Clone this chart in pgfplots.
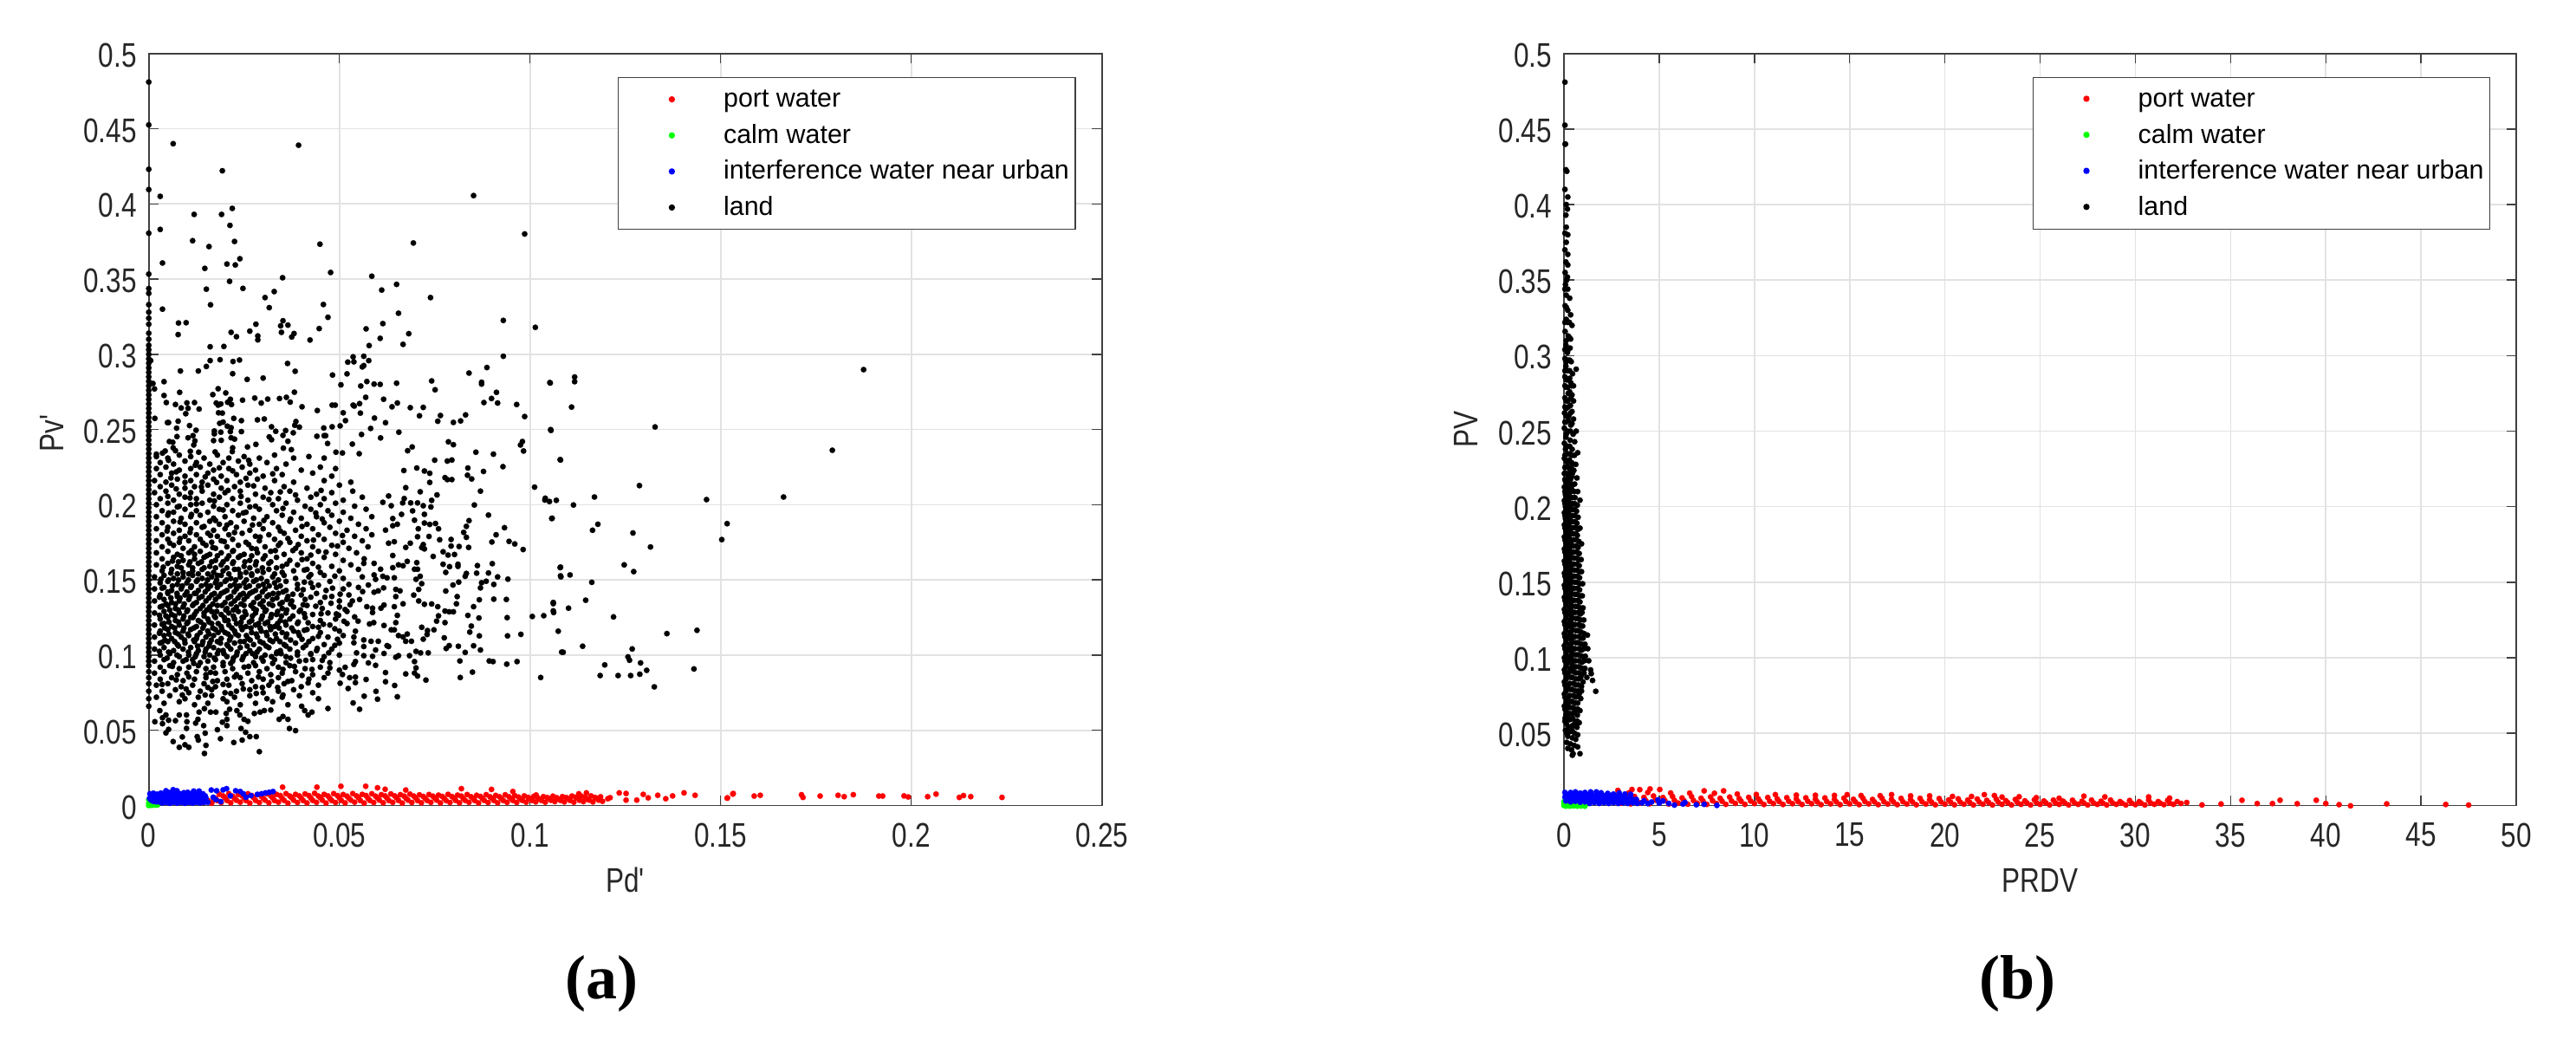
\documentclass[border=0pt]{standalone}
\usepackage{fontspec}
\usepackage{pgfplots}
\pgfplotsset{compat=1.18}
\setmainfont{Liberation Sans}
\newfontfamily\tickfont[FakeStretch=0.8]{Liberation Sans}
\newfontfamily\capfont{Liberation Serif}
\definecolor{axc}{HTML}{404040}
\definecolor{tx}{HTML}{262626}
\definecolor{gr}{HTML}{E2E2E2}
\pgfplotsset{
 dots/.style={only marks,mark=*,mark size=1.6pt,color=#1,mark options={line width=0.1pt,draw=#1,fill=#1}},
 panel/.style={
  scale only axis,anchor=south west,clip=false,axis on top=false,
  xmajorgrids,ymajorgrids,grid style={gr,line width=0.8pt},
  axis line style={axc,line width=0.9pt},
  major tick style={axc,line width=0.7pt},
  major tick length=5.75pt,tick align=inside,tick pos=both,
  tick label style={font=\fontsize{19.7}{20}\selectfont\tickfont,text=tx},
  xticklabel style={yshift=-6.5pt},
  yticklabel style={xshift=-3.5pt,yshift=-1pt},
  every axis x label/.style={at={(axis description cs:0.5,0)},anchor=center,yshift=-43pt,font=\fontsize{19.7}{20}\selectfont\tickfont,text=tx},
  every axis y label/.style={rotate=90,anchor=center,font=\fontsize{19.7}{20}\selectfont\tickfont,text=tx},
  legend cell align=left,
  legend image code/.code={\path (0,0) (56.4pt,0); \fill[##1] (26.9pt,0) circle (1.45pt);},
  legend style={anchor=north west,draw=axc,line width=0.7pt,fill=white,
    font=\fontsize{15.2}{15}\selectfont,text=black,inner xsep=3.6pt,inner ysep=5pt,
    row sep=5.8pt,nodes={inner sep=0pt,text height=12pt,text depth=3pt}},
 }
}
\begin{document}
\begin{tikzpicture}[x=1pt,y=1pt]
\path[use as bounding box] (0,0) rectangle (1486.5,603);
\begin{axis}[panel,at={(85.85pt,138.25pt)},width=550pt,height=433.9pt,
 xmin=0,xmax=0.25,ymin=0,ymax=0.5,
 xtick={0,0.05,0.1,0.15,0.2,0.25},xticklabels={0,0.05,0.1,0.15,0.2,0.25},
 ytick={0,0.05,0.1,0.15,0.2,0.25,0.3,0.35,0.4,0.45,0.5},
 yticklabels={0,0.05,0.1,0.15,0.2,0.25,0.3,0.35,0.4,0.45,0.5},
 xlabel={Pd'},ylabel={Pv'},
 ylabel style={at={(axis description cs:-0.1014,0.495)}},
 legend style={at={(axis description cs:0.4921,0.9686)}}]
\addplot[dots=red] coordinates {
(.0351,.0122)(.0441,.0122)(.0504,.0128)(.0569,.0128)(.06,.0118)(.062,.0108)(.0674,.0103)(.082,.0112)(.0899,.0107)(.0955,.0093)
(.1016,.007)(.1128,.0078)(.1148,.0084)(.1204,.0045)(.1234,.0084)(.1252,.008)(.1252,.0036)(.128,.0036)(.1297,.0074)(.131,.0051)(.1335,.0068)(.1356,.0045)(.1374,.0064)(.1404,.0084)(.1433,.0068)(.1518,.0051)(.1533,.008)
(.1517,.0049)(.1532,.0076)(.1588,.0063)(.1604,.0068)(.1712,.0072)(.1716,.0054)(.1761,.0063)(.1808,.0068)(.1824,.0059)(.1848,.0072)(.1915,.0063)(.1925,.0063)(.1981,.0064)(.1992,.0057)(.2043,.0059)(.2065,.0076)(.2126,.0054)(.2137,.0066)(.2156,.0059)(.2238,.0054)
(.014,.002)(.0165,.0015)(.019,.002)(.0215,.0018)(.024,.0022)(.0265,.0016)(.029,.002)(.0315,.0018)(.034,.0022)(.0365,.0016)(.039,.002)(.0415,.0017)(.044,.0021)(.0465,.0016)(.049,.002)(.0515,.0017)(.054,.0022)(.0565,.0016)(.059,.002)(.0615,.0018)(.064,.0021)(.0665,.0016)(.069,.002)(.0715,.0018)(.074,.0021)(.0765,.0017)(.079,.002)(.0815,.0018)(.084,.0021)(.0865,.0017)(.089,.002)(.0915,.0018)(.094,.0021)(.0965,.002)(.099,.0022)(.1015,.0024)(.104,.0022)(.1065,.0026)(.109,.0024)(.1115,.0022)(.114,.0026)(.1165,.0024)(.119,.0028)
(.0175,.0048)(.02,.0052)(.0225,.0046)(.025,.005)(.0275,.0053)(.03,.0048)(.0325,.0051)(.035,.0047)(.0375,.0052)(.04,.0048)(.0425,.005)(.045,.0053)(.0475,.0047)(.05,.0051)(.0525,.0048)(.055,.0052)(.0575,.0047)(.06,.005)(.0625,.0049)(.065,.0052)(.0675,.0047)(.07,.005)(.0725,.0047)(.075,.005)(.0775,.0047)(.08,.005)(.0825,.0046)(.085,.0049)(.0875,.0046)(.09,.0048)(.0925,.0045)(.095,.0047)(.0975,.0043)(.1,.0045)(.1025,.0043)(.105,.0046)(.1075,.0043)(.11,.0046)(.1125,.0048)(.115,.0044)(.1175,.0048)
(.0185,.0075)(.021,.0079)(.0235,.0073)(.026,.0078)(.0285,.0072)(.031,.0078)(.0335,.0074)(.036,.0079)(.0385,.0074)(.041,.0077)(.0435,.0081)(.046,.0074)(.0485,.0079)(.051,.0073)(.0535,.0079)(.056,.0074)(.0585,.0078)(.061,.0072)(.0635,.0077)(.066,.0072)(.0685,.0076)(.071,.0071)(.0735,.0073)(.076,.0069)(.0785,.0074)(.081,.0069)(.0835,.0073)(.086,.0068)(.0885,.0072)(.091,.0067)(.0935,.0071)(.096,.0066)(.0985,.0064)(.101,.0061)(.1035,.0059)(.106,.0062)(.1085,.0059)(.111,.0063)(.1135,.0062)(.116,.0064)(.1185,.0058)(.121,.0052)
(.0155,.0034)(.017,.0036)(.018,.0033)(.0205,.0034)(.023,.0035)(.0255,.0033)(.028,.0034)(.0305,.0036)(.033,.0033)(.0355,.0034)(.038,.0036)(.0405,.0033)(.043,.0034)(.0455,.0036)(.048,.0033)(.0505,.0034)(.053,.0036)(.0555,.0033)(.058,.0034)(.0605,.0036)(.063,.0033)(.0655,.0034)(.068,.0036)(.0705,.0033)(.073,.0034)(.0755,.0036)(.078,.0033)(.0805,.0034)(.083,.0034)(.0855,.0033)(.088,.0034)(.0905,.0034)(.093,.0033)(.0955,.0034)(.098,.0034)(.1005,.0034)(.103,.0034)(.1055,.0035)(.108,.0034)(.1105,.0034)(.113,.0035)(.1155,.0036)(.118,.0036)
(.0195,.0064)(.022,.0062)(.0245,.0064)(.027,.0066)(.0295,.0062)(.032,.0064)(.0345,.0066)(.037,.0063)(.0395,.0064)(.042,.0066)(.0445,.0063)(.047,.0064)(.0495,.0066)(.052,.0062)(.0545,.0064)(.057,.0066)(.0595,.0062)(.062,.0064)(.0645,.0064)(.067,.0062)(.0695,.0063)(.072,.006)(.0745,.0062)(.077,.006)(.0795,.006)(.082,.0062)(.0845,.0059)(.087,.006)(.0895,.0058)(.092,.0058)(.0945,.0058)(.097,.0056)(.0995,.0054)(.102,.0052)(.1045,.0053)(.107,.0052)(.1095,.0053)(.112,.0055)(.1145,.0054)(.117,.0054)
};
\addlegendentry{port water}
\addplot[dots=green] coordinates {(0,.0015)(0,.004)(0,0)(.0003,.0025)(.0006,.0002)(.001,.0002)(.0014,.0005)(.0019,.0003)(.0023,.0004)};
\addlegendentry{calm water}
\addplot[dots=blue] coordinates {
(.0012,.0028)(.002,.0025)(.003,.0022)(.0035,.0017)(.0045,.002)(.0055,.0015)(.0065,.0021)(.0075,.0016)(.0085,.002)(.0095,.0015)(.0105,.002)(.0115,.0016)(.0125,.0021)(.0135,.0017)(.0145,.0021)(.0155,.0022)
(.0002,.0048)(.001,.0052)(.002,.0048)(.003,.0052)(.004,.0047)(.005,.0051)(.006,.0048)(.007,.0052)(.008,.0047)(.009,.0051)(.01,.0048)(.011,.0052)(.012,.0047)(.013,.0051)(.014,.0048)(.015,.005)
(.0003,.0078)(.0012,.0082)(.0022,.0076)(.0032,.0083)(.0042,.0078)(.0052,.0088)(.0062,.008)(.0072,.0092)(.0082,.0078)(.0092,.0085)(.0102,.0088)(.0112,.008)(.0122,.0082)(.0132,.0086)(.0142,.0078)
(.0064,.0105)(.0074,.0098)(.0045,.0098)(.0118,.0096)(.0132,.0096)
(.0006,.0035)(.0016,.0034)(.0026,.0036)(.0036,.0034)(.0046,.0035)(.0056,.0034)(.0066,.0036)(.0076,.0034)(.0086,.0035)(.0096,.0034)(.0106,.0036)(.0116,.0034)(.0126,.0035)(.0136,.0034)(.0146,.0036)
(.0006,.0065)(.0016,.0066)(.0026,.0064)(.0036,.0066)(.0046,.0065)(.0056,.0067)(.0066,.0064)(.0076,.0066)(.0086,.0065)(.0096,.0067)(.0106,.0064)(.0116,.0066)(.0126,.0065)(.0136,.0066)(.0148,.0064)
(.0164,.0103)(.0178,.0098)(.0195,.0104)(.0204,.0112)(.0169,.0055)(.0189,.0026)(.0176,.004)(.0214,.0064)(.024,.0093)(.0228,.0098)(.0255,.0055)(.0248,.0078)(.0268,.0066)(.0285,.0074)(.0306,.0084)(.0326,.0093)(.0296,.0078)(.0316,.0088)
};
\addlegendentry{interference water near urban}
\addplot[dots=black] coordinates {
(0,.481)(0,.4525)(.0064,.44)(.0393,.439)(.0193,.422)(0,.423)(0,.4095)(.003,.405)(.0852,.4055)(.0219,.397)(.0119,.393)(.0191,.393)(.0213,.3857)(.003,.383)(0,.3805)(.0986,.38)(.0115,.3755)(.0225,.375)(.0694,.374)(.0449,.3732)(.0158,.3716)(.0239,.3635)(.0036,.3607)(.0205,.36)(.0227,.3594)(.0147,.3571)(.0477,.3544)(0,.3533)(.0585,.3519)(.0351,.3509)(.0212,.3485)(.065,.3465)(0,.3437)(0,.3405)(.0247,.3438)(.0151,.3433)(.0611,.3427)(.0329,.3417)(.0305,.3377)(.0739,.3377)(.0162,.3329)(.0458,.3331)(0,.333)(.0036,.33)(.0316,.331)(.0655,.3273)(0,.328)(0,.324)(0,.32)(.047,.3246)(.093,.3225)(.0078,.3208)(.0098,.321)(.0281,.32)(.0352,.3223)(.0346,.3189)(.0365,.3194)(.0614,.3204)(.1014,.3179)(.057,.3169)(.0447,.3171)(.0216,.3146)(.0265,.3154)(.0348,.3146)(.0077,.3131)(.0286,.3122)(.0286,.3096)(.023,.3117)(.0381,.3138)(.0375,.3115)(.0682,.3137)(.0607,.3106)(.0423,.3095)(.0667,.3066)(.0161,.305)(.0197,.3052)(.0578,.3058)(.093,.2987)(.0564,.2987)(.0536,.2983)(.0005,.2958)(.0161,.2958)(.0187,.2964)(.0221,.2952)(.0238,.2962)(.0522,.2948)(.0538,.295)(.0577,.2958)(.0564,.2925)(.056,.2916)(.0151,.2919)(.0364,.2939)(.0887,.2912)(.0083,.2889)(.013,.2889)(.0384,.2887)(.022,.2871)(.052,.287)(.084,.2875)(.0482,.2862)(.03,.2842)(.0258,.2833)(.004,.2818)(.0011,.2806)(.0742,.2823)(.0572,.2819)(.1052,.2812)(.065,.2808)(.0591,.2802)(.0607,.28)(.0873,.2814)(.0873,.2802)(.0504,.2797)(.0556,.2789)(.0015,.277)(.0182,.2771)(.0751,.2764)(.0081,.2747)(.0202,.2743)(.0382,.2748)(.0912,.2747)(.0168,.2732)(.004,.2726)(.0569,.2714)(.0214,.2701)(.0278,.2709)(.0312,.2702)(.0343,.2706)(.0361,.2714)(.0246,.2695)(.0899,.2706)(.0616,.2701)(.0046,.2679)(.01,.2677)(.012,.2679)(.0177,.2676)(.0182,.2662)(.0189,.267)(.0207,.2681)(.0217,.2666)(.0295,.2676)(.0371,.2682)(.0915,.2676)(.0879,.2679)(.0652,.2676)(.0553,.2672)(.007,.2666)(.0481,.2662)(.0489,.2662)(.0536,.2662)(.0539,.2656)(.0965,.2666)(.0085,.2643)(.0103,.2641)(.0132,.2636)(.0402,.2651)(.0638,.2651)(.0686,.2645)(.072,.2647)(.0442,.2626)(.051,.2611)(.0555,.2609)(.0097,.2605)(.0183,.2611)(.0193,.2609)(.071,.2591)(.0765,.2593)(.0986,.2586)(.0016,.2574)(.0592,.2576)(.0223,.2574)(.0285,.2564)(.0303,.257)(.0243,.2559)(.0516,.2559)(.0049,.2546)(.0052,.2546)(.0077,.2555)(.0186,.2541)(.0195,.2549)(.0758,.2555)(.0799,.2547)(.0818,.2557)(.0831,.2597)(.0386,.2553)(.0383,.2528)(.0395,.2516)(.0621,.2545)(.0107,.2526)(.0322,.2518)(.0206,.2522)(.0216,.2512)(.0073,.2509)(.0459,.251)(.0481,.2518)(.0502,.2524)(.1054,.2499)(.0582,.2507)(.0124,.2495)(.0172,.249)(.0172,.2471)(.0189,.2482)(.0214,.2486)(.0243,.2486)(.0333,.2488)(.0359,.2493)(.0656,.2482)(.0379,.2478)(.0352,.2461)(.0558,.2467)(.0441,.2455)(.046,.2459)(.0464,.2459)(.0074,.2453)(.0103,.2445)(.0116,.2459)(.0216,.2445)(.0225,.2436)(.0608,.2444)(.0316,.2451)(.0322,.2432)(.0121,.2424)(.0054,.242)(.0063,.2415)(.017,.2426)(.019,.2428)(.0365,.2422)(.0786,.2418)(.0799,.2399)(.098,.242)(.0975,.2397)(.0983,.2357)(.0469,.2407)(.0534,.2403)(.0118,.2397)(.0281,.2401)(.0259,.2384)(.022,.2378)(.0219,.2353)(.0353,.2376)(.0064,.2378)(.007,.2359)(.0374,.2366)(.0691,.2384)(.0679,.2359)(.0043,.2357)(.0036,.2343)(.002,.2336)(.0109,.2355)(.0131,.2349)(.0174,.2351)(.0491,.2349)(.0508,.2344)(.0552,.2339)(.0858,.2349)(.0904,.2336)
(.108,.2297)(.0929,.2253)(.0878,.2221)(.0847,.2171)(.0837,.2244)(.0836,.2196)(.0777,.218)(.0783,.2167)(.0795,.2167)(.075,.2296)(.0783,.229)(.0795,.2297)(.0723,.2224)(.0737,.2209)(.0703,.2244)(.0669,.2227)(.0737,.2148)(.0674,.2113)(.0712,.2086)(.0756,.2065)(.0742,.2029)(.074,.1985)(.087,.209)(.0854,.1998)(.0891,.1931)(.1012,.2117)(.1039,.2031)(.1051,.2021)(.1057,.1908)(.084,.1894)(.0833,.1856)(.0826,.1816)(.0833,.1783)(.0933,.1847)(.0911,.18)(.09,.1752)(.0945,.1756)(.096,.1739)(.0982,.1702)(.0839,.1716)(.0814,.1722)(.0793,.1769)(.0793,.1725)(.0763,.1767)(.0772,.1687)(.0785,.1665)(.0802,.1669)(.0746,.1656)(.0772,.1604)(.0789,.1588)(.0811,.1604)(.0811,.159)(.0779,.155)(.0833,.1543)(.083,.1524)(.0862,.1595)(.086,.1545)(.0901,.1608)(.0891,.1546)(.0915,.152)(.0942,.1505)(.108,.1585)(.108,.1527)(.0885,.1491)(.0873,.1481)(.087,.1447)(.0905,.147)(.0813,.1485)(.0798,.1466)(.0779,.1426)(.0809,.1389)(.0807,.1341)(.0788,.1288)(.0799,.1288)(.0777,.1293)(.076,.1261)(.0755,.1226)(.0777,.1216)(.0867,.1368)(.0905,.1372)(.0938,.137)(.0852,.1322)(.0837,.1264)(.0866,.1247)(.094,.1249)(.0846,.1193)(.0842,.1153)(.0867,.1128)(.0941,.1128)(.0976,.1138)(.1061,.135)(.1062,.1283)(.1006,.1257)(.1036,.1262)(.1074,.1159)(.1083,.102)(.0852,.1062)(.087,.1034)(.0812,.1059)(.083,.1018)(.0816,.0961)(.0893,.0961)(.0903,.0957)(.0939,.094)(.0966,.0957)(.0849,.0887)(.0817,.0851)(.1028,.0851)(.0727,.0834)(.0775,.1115)(.078,.1044)(.0788,.1063)(.0716,.1185)(.0731,.1163)(.0748,.1168)(.072,.1106)(.073,.1137)(.0701,.1025)(.0713,.1015)(.0733,.1015)(.0697,.0957)(.0701,.0915)(.0697,.0881)(.0705,.0861)(.0674,.0875)(.0684,.0996)(.0648,.0986)(.0655,.0996)(.0678,.114)(.0667,.1121)(.0674,.1092)(.0689,.1092)(.0708,.136)(.0723,.1338)(.0742,.134)(.0758,.1322)(.0695,.1399)(.0708,.1437)(.0716,.1475)(.0712,.1524)(.0701,.1504)(.0697,.1571)(.0705,.1571)(.072,.1735)(.0716,.1715)(.0723,.1706)(.0707,.184)(.0705,.1787)(.0735,.1789)(.0723,.1878)(.0737,.1869)(.0752,.1875)(.076,.184)(.0697,.1897)(.0692,.1959)(.0723,.1936)(.072,.1993)(.0705,.2012)(.0687,.2012)(.0666,.2012)(.067,.2041)(.0636,.1993)(.0614,.2016)(.0629,.2058)(.0663,.1936)(.064,.1908)(.0652,.187)(.064,.186)(.0621,.1831)(.0686,.1744)(.0674,.1716)(.0629,.1744)(.0644,.1754)(.064,.1662)(.0655,.16)(.0667,.1594)(.0678,.1623)(.0703,.1615)(.064,.1581)(.0608,.1571)(.0591,.161)(.0564,.161)(.0644,.1514)(.0625,.1514)(.0614,.1524)(.0595,.1504)(.0591,.1533)(.0648,.1437)(.0659,.1427)(.0648,.1389)(.0667,.1341)(.0644,.1322)(.0617,.1333)(.0609,.1312)(.0616,.1447)(.0602,.1427)(.0591,.1418)(.0576,.1466)(.0561,.1422)(.0534,.136)(.0553,.137)(.0572,.1322)(.0587,.1312)(.0587,.1283)(.0549,.1226)(.054,.1254)(.0515,.1303)(.0492,.1274)(.0652,.1264)(.0648,.1216)(.0617,.1197)(.059,.1216)(.0579,.1207)(.0644,.1168)(.0636,.1168)(.0655,.113)(.0625,.1063)(.0602,.1092)(.0583,.1092)(.0564,.1101)(.0542,.1159)(.0538,.112)(.0538,.1082)(.0564,.1057)(.0595,.1034)(.0617,.1011)(.0629,.1057)(.0545,.1015)(.0564,.0996)(.0587,.0992)(.0542,.0957)(.0576,.0948)(.0595,.0932)(.0538,.0938)(.0515,.0919)(.05,.09)(.0508,.0871)(.0527,.085)(.0542,.0854)(.0542,.0817)(.0621,.0884)(.0621,.0823)(.0645,.0798)(.057,.0838)(.0523,.0778)(.0502,.0813)(.0596,.0759)(.06,.0707)(.0565,.0727)(.0536,.0682)(.0553,.064)(.0652,.0723)(.047,.0645)
(.1875,.2898)(.1328,.2517)(.1463,.2034)(.1665,.2051)(.1793,.2362)(.1517,.1874)(.1503,.1768)(.1287,.2127)(.1169,.2051)(.1114,.1998)(.1178,.187)(.1164,.183)(.127,.1812)(.1316,.1719)(.1247,.16)(.1272,.1555)(.1162,.1484)(.1079,.1582)(.1081,.152)(.1105,.1533)(.1146,.1365)(.1101,.1312)(.1061,.1342)(.1061,.1294)(.1219,.1254)(.1359,.1143)(.1438,.1165)(.1087,.1019)(.1138,.1059)(.1268,.1041)(.1257,.0988)(.1261,.0966)(.129,.0948)(.1306,.0899)(.1196,.0935)(.1184,.0864)(.1231,.0864)(.1264,.0864)(.1288,.0873)(.1326,.0789)(.143,.0908)(.1055,.2494)(.1058,.191)(.1053,.2809)(.1117,.2849)(.1117,.2818)(.1109,.2649)(.1079,.23)(.1069,.2029)(.104,.2043)
(.029,.0358)(.0146,.0346)(.015,.04)(.008,.0387)(.0095,.0404)(.0105,.0387)(.0064,.0425)(.0088,.0456)(.0127,.0458)(.013,.0435)(.0148,.0481)(.0188,.0444)(.0223,.0419)(.0245,.0435)(.0265,.0458)(.0282,.0458)(.0045,.0483)(.0052,.0506)(.0099,.0513)(.018,.0504)(.0242,.0512)(.0254,.0487)(.0369,.0512)(.0385,.0498)(.0016,.0557)(.0036,.0544)(.0052,.0567)(.007,.0564)(.01,.0557)(.0129,.0573)(.0123,.0548)(.0144,.0531)(.0193,.0554)(.0205,.0573)(.0205,.0531)(.026,.056)(.0342,.0573)(.0352,.0592)(.0365,.0573)(.0036,.0583)(.0029,.0631)(.0045,.0602)(.008,.0602)(.0099,.0602)(.0132,.0621)(.0146,.0644)(.0162,.0621)(.0176,.0621)(.0203,.0612)(.0212,.064)(.0231,.0631)(.0239,.0602)(.025,.0573)(.0277,.0612)(.0292,.0621)(.0303,.0631)(.032,.0635)(.0401,.066)(.0409,.0631)(.0428,.0621)(.0418,.0602)
(0,.066)(0,.071)(0,.076)(0,.081)(0,.085)(0,.089)(0,.093)(0,.096)(0,.099)(0,.102)(0,.105)(0,.108)(0,.111)(0,.114)(0,.117)(0,.12)(0,.123)(0,.126)(0,.129)(0,.132)(0,.135)(0,.138)(0,.141)(0,.144)(0,.147)(0,.15)(0,.153)(0,.156)(0,.159)(0,.162)(0,.165)(0,.168)(0,.171)(0,.174)(0,.177)(0,.18)(0,.183)(0,.186)(0,.189)(0,.192)(0,.195)(0,.198)(0,.201)(0,.204)(0,.207)(0,.21)(0,.213)(0,.216)(0,.219)(0,.222)(0,.225)(0,.228)(0,.231)(0,.234)(0,.237)(0,.24)(0,.243)(0,.246)(0,.249)(0,.252)(0,.255)(0,.258)(0,.261)(0,.264)(0,.267)(0,.27)(0,.273)(0,.276)(0,.279)(0,.282)(0,.285)(0,.288)(0,.291)(0,.294)(0,.297)(0,.3)(0,.303)(0,.306)(0,.31)(0,.314)
(.002,.232)(.005,.231)(.008,.233)(.011,.232)(.0145,.231)(.018,.233)(.021,.231)(.025,.232)(.029,.231)(.033,.233)(.038,.231)(.042,.232)(.046,.231)
(.003,.228)(.0065,.227)(.0095,.229)(.0125,.228)(.016,.227)(.0195,.228)(.0235,.229)(.0265,.227)(.031,.228)(.036,.227)
(.002,.224)(.0045,.225)(.008,.223)(.011,.224)(.0135,.225)(.017,.223)(.021,.224)(.0245,.225)(.028,.223)(.0335,.224)(.04,.223)(.045,.225)(.049,.224)
(.003,.22)(.006,.221)(.0095,.219)(.0125,.22)(.0155,.221)(.019,.219)(.023,.22)(.0265,.221)(.03,.219)(.035,.22)(.043,.221)(.048,.219)
(.0015,.216)(.0045,.215)(.0075,.217)(.011,.216)(.014,.215)(.017,.217)(.0205,.216)(.024,.215)(.0285,.217)(.033,.216)(.038,.215)(.046,.216)(.053,.215)
(.003,.212)(.006,.213)(.0095,.211)(.012,.212)(.0155,.213)(.019,.211)(.0225,.212)(.026,.213)(.0305,.211)(.0355,.212)(.0415,.211)(.05,.213)
(.0015,.208)(.0045,.209)(.008,.207)(.011,.208)(.014,.209)(.017,.207)(.02,.208)(.024,.209)(.028,.207)(.032,.208)(.037,.209)(.044,.207)(.048,.208)(.0535,.209)
(.003,.204)(.0065,.203)(.0095,.205)(.0125,.204)(.016,.203)(.0185,.205)(.022,.204)(.026,.203)(.03,.205)(.034,.204)(.039,.203)(.0425,.205)(.046,.204)(.051,.203)(.056,.205)
(.002,.2)(.005,.201)(.008,.199)(.011,.2)(.014,.201)(.017,.199)(.0205,.2)(.024,.201)(.028,.199)(.0325,.2)(.036,.201)(.041,.199)(.045,.2)(.049,.201)(.054,.199)
(.0035,.196)(.0065,.195)(.0095,.197)(.0125,.196)(.0155,.195)(.0185,.197)(.022,.196)(.0255,.195)(.029,.197)(.0335,.196)(.038,.195)(.0425,.197)(.047,.196)(.051,.195)(.057,.197)
(.002,.192)(.005,.193)(.0085,.191)(.011,.192)(.0135,.193)(.017,.191)(.02,.192)(.0235,.193)(.0275,.191)(.031,.192)(.035,.193)(.04,.191)(.044,.192)(.048,.193)(.053,.191)(.0585,.192)
(.0035,.188)(.0065,.189)(.0095,.187)(.0125,.188)(.016,.189)(.0185,.187)(.0215,.188)(.025,.189)(.029,.187)(.0325,.188)(.037,.189)(.0415,.187)(.046,.188)(.05,.189)(.055,.187)
(.002,.184)(.005,.185)(.008,.183)(.011,.184)(.014,.185)(.017,.183)(.02,.184)(.023,.185)(.0265,.183)(.03,.184)(.034,.185)(.0385,.183)(.043,.184)(.0475,.185)(.052,.183)(.057,.184)
(.0035,.18)(.0065,.181)(.0095,.179)(.0125,.18)(.0155,.181)(.018,.179)(.021,.18)(.0245,.181)(.028,.179)(.0315,.18)(.0355,.181)(.04,.179)(.0445,.18)(.049,.181)(.054,.179)(.0585,.18)
(.002,.176)(.005,.177)(.008,.175)(.0105,.176)(.0135,.177)(.0165,.175)(.019,.176)(.022,.177)(.0255,.175)(.029,.176)(.033,.177)(.037,.175)(.0415,.176)(.046,.177)(.051,.175)(.056,.176)
(.0035,.172)(.0065,.173)(.009,.171)(.012,.172)(.015,.173)(.0175,.171)(.0205,.172)(.0235,.173)(.027,.171)(.0305,.172)(.034,.173)(.0385,.171)(.043,.172)(.048,.173)(.0525,.171)(.0575,.172)
(.002,.168)(.005,.169)(.0075,.167)(.0105,.168)(.0135,.169)(.016,.167)(.019,.168)(.022,.169)(.025,.167)(.0285,.168)(.032,.169)(.0355,.167)(.04,.168)(.0445,.169)(.049,.167)(.0545,.168)
(.0035,.164)(.0065,.165)(.009,.163)(.012,.164)(.0145,.165)(.0175,.163)(.0205,.164)(.0235,.165)(.0265,.163)(.03,.164)(.0335,.165)(.037,.163)(.0415,.164)(.046,.165)(.051,.163)(.0565,.164)
(.002,.16)(.005,.161)(.0075,.159)(.0105,.16)(.013,.161)(.016,.159)(.019,.16)(.022,.161)(.025,.159)(.028,.16)(.0315,.161)(.035,.159)(.039,.16)(.043,.161)(.048,.159)(.053,.16)
(.0035,.156)(.006,.157)(.009,.155)(.0115,.156)(.014,.157)(.017,.155)(.0195,.156)(.0225,.157)(.0255,.155)(.0285,.156)(.0315,.157)(.035,.155)(.038,.156)(.0415,.157)(.045,.155)(.05,.156)(.055,.157)
(.0015,.152)(.004,.153)(.0065,.151)(.009,.152)(.0115,.153)(.014,.151)(.0165,.152)(.019,.153)(.0215,.151)(.024,.152)(.027,.153)(.0295,.151)(.0325,.152)(.0355,.153)(.0385,.151)(.042,.152)(.046,.153)(.051,.151)(.056,.152)
(.003,.148)(.005,.149)(.0075,.147)(.01,.148)(.0125,.149)(.015,.147)(.0175,.148)(.02,.149)(.0225,.147)(.025,.148)(.0275,.149)(.03,.147)(.033,.148)(.036,.149)(.039,.147)(.0425,.148)(.0475,.149)(.0525,.147)
(.0015,.144)(.004,.145)(.006,.143)(.0085,.144)(.011,.145)(.013,.143)(.0155,.144)(.018,.145)(.0205,.143)(.023,.144)(.0255,.145)(.028,.143)(.0305,.144)(.0335,.145)(.036,.143)(.039,.144)(.043,.145)(.0465,.143)(.051,.144)(.055,.145)
(.003,.14)(.005,.141)(.0075,.139)(.0095,.14)(.012,.141)(.014,.139)(.0165,.14)(.019,.141)(.0215,.139)(.024,.14)(.0265,.141)(.029,.139)(.0315,.14)(.034,.141)(.0365,.139)(.04,.14)(.044,.141)(.048,.139)(.0525,.14)
(.0015,.136)(.004,.137)(.006,.135)(.008,.136)(.0105,.137)(.0125,.135)(.015,.136)(.0175,.137)(.02,.135)(.0225,.136)(.025,.137)(.0275,.135)(.03,.136)(.0325,.137)(.035,.135)(.0375,.136)(.041,.137)(.045,.135)(.05,.136)
(.003,.132)(.005,.133)(.007,.131)(.009,.132)(.0115,.133)(.0135,.131)(.016,.132)(.018,.133)(.0205,.131)(.023,.132)(.025,.133)(.0275,.131)(.03,.132)(.0325,.133)(.035,.131)(.038,.132)(.0415,.133)(.0455,.131)(.05,.132)
(.0015,.128)(.004,.129)(.006,.127)(.008,.128)(.01,.129)(.012,.127)(.0145,.128)(.0165,.129)(.019,.127)(.021,.128)(.0235,.129)(.0255,.127)(.028,.128)(.0305,.129)(.0335,.127)(.036,.128)(.0395,.129)(.043,.127)(.047,.128)(.052,.129)
(.003,.124)(.005,.125)(.007,.123)(.009,.124)(.011,.125)(.013,.123)(.0155,.124)(.0175,.125)(.02,.123)(.0225,.124)(.0245,.125)(.027,.123)(.0295,.124)(.032,.125)(.0345,.123)(.037,.124)(.041,.125)(.045,.123)(.049,.124)
(.0015,.12)(.004,.121)(.006,.119)(.008,.12)(.01,.121)(.0125,.119)(.0145,.12)(.0165,.121)(.019,.119)(.021,.12)(.023,.121)(.0255,.119)(.028,.12)(.0305,.121)(.033,.119)(.036,.12)(.039,.121)(.043,.119)(.0475,.12)(.052,.121)
(.003,.116)(.005,.117)(.007,.115)(.009,.116)(.011,.117)(.0135,.115)(.0155,.116)(.0175,.117)(.02,.115)(.0225,.116)(.0245,.117)(.027,.115)(.0295,.116)(.032,.117)(.035,.115)(.038,.116)(.0415,.117)(.045,.115)(.05,.116)
(.0015,.112)(.004,.113)(.006,.111)(.0085,.112)(.0105,.113)(.0125,.111)(.015,.112)(.017,.113)(.019,.111)(.0215,.112)(.0235,.113)(.026,.111)(.0285,.112)(.031,.113)(.0335,.111)(.036,.112)(.0395,.113)(.043,.111)(.047,.112)(.051,.113)
(.003,.108)(.005,.109)(.0075,.107)(.0095,.108)(.012,.109)(.014,.107)(.016,.108)(.018,.109)(.0205,.107)(.0225,.108)(.025,.109)(.0275,.107)(.03,.108)(.0325,.109)(.0355,.107)(.0385,.108)(.042,.109)(.046,.107)(.05,.108)
(.0015,.104)(.004,.105)(.0065,.103)(.009,.104)(.011,.105)(.013,.103)(.015,.104)(.017,.105)(.0195,.103)(.0215,.104)(.024,.105)(.0265,.103)(.029,.104)(.0315,.105)(.0345,.103)(.037,.104)(.0405,.105)(.044,.103)(.048,.104)
(.003,.1)(.0055,.101)(.008,.099)(.0105,.1)(.0125,.101)(.0145,.099)(.016,.1)(.018,.101)(.0205,.099)(.023,.1)(.0255,.101)(.028,.099)(.0305,.1)(.0335,.101)(.036,.099)(.039,.1)(.0425,.101)(.046,.099)(.05,.1)
(.0015,.096)(.004,.097)(.0065,.095)(.009,.096)(.0115,.097)(.0135,.095)(.0155,.096)(.0175,.097)(.0195,.095)(.022,.096)(.0245,.097)(.0275,.095)(.03,.096)(.033,.097)(.036,.095)(.0395,.096)(.043,.097)(.0475,.095)
(.003,.092)(.0055,.093)(.008,.091)(.0105,.092)(.013,.093)(.015,.091)(.017,.092)(.0195,.093)(.022,.091)(.025,.092)(.028,.093)(.031,.091)(.034,.092)(.037,.093)(.041,.091)(.045,.092)
(.0015,.088)(.004,.089)(.0075,.087)(.01,.088)(.0125,.089)(.015,.087)(.0175,.088)(.02,.089)(.023,.087)(.026,.088)(.029,.089)(.032,.087)(.035,.088)(.0385,.089)(.043,.087)(.047,.088)
(.003,.084)(.006,.085)(.009,.083)(.012,.084)(.015,.085)(.018,.083)(.0205,.084)(.024,.085)(.027,.083)(.03,.084)(.034,.085)(.0375,.083)(.042,.084)(.046,.085)
(.002,.08)(.005,.081)(.0085,.079)(.0115,.08)(.0145,.081)(.0175,.079)(.021,.08)(.0245,.081)(.028,.079)(.0315,.08)(.0355,.081)(.04,.079)(.0445,.08)
(.0035,.076)(.007,.077)(.0105,.075)(.0135,.076)(.0165,.077)(.02,.075)(.023,.076)(.0265,.077)(.03,.075)(.034,.076)(.038,.077)(.043,.075)
(.002,.072)(.0055,.073)(.0095,.071)(.013,.072)(.0165,.073)(.0195,.071)(.0225,.072)(.0265,.073)(.031,.071)(.035,.072)(.0395,.073)(.0445,.071)
(.004,.068)(.008,.069)(.012,.067)(.0155,.068)(.0205,.069)(.024,.067)(.028,.068)(.0325,.069)(.0365,.067)
(.0048,.098)(.0074,.1)(.0098,.097)(.0122,.099)(.0148,.102)(.0172,.098)(.0197,.101)(.0222,.098)(.0248,.099)(.0272,.101)(.0296,.098)(.0322,.099)(.0347,.101)(.0372,.098)
(.0052,.102)(.0078,.106)(.0104,.102)(.0128,.106)(.0158,.106)(.0183,.103)(.0208,.106)(.0232,.102)(.0258,.106)(.0284,.102)(.0308,.106)(.0336,.102)(.036,.106)(.039,.102)
(.0042,.11)(.0068,.109)(.0094,.11)(.0118,.11)(.0142,.109)(.0164,.11)(.0188,.108)(.0212,.11)(.024,.109)(.0266,.11)(.0292,.109)(.0318,.11)(.0344,.109)(.0372,.11)
(.0053,.114)(.0078,.114)(.0103,.114)(.0127,.113)(.0158,.114)(.0182,.115)(.0208,.114)(.0228,.114)(.0256,.113)(.0282,.114)(.0308,.115)(.0332,.114)(.0362,.114)(.0392,.115)
(.0042,.118)(.0068,.118)(.0092,.118)(.0118,.118)(.0142,.118)(.0168,.118)(.0192,.117)(.0218,.118)(.0242,.119)(.0268,.118)(.0292,.118)(.0318,.119)(.0342,.118)(.0375,.118)
(.0053,.122)(.0078,.122)(.0103,.122)(.0136,.122)(.0158,.122)(.0182,.121)(.0208,.123)(.0242,.122)(.0264,.122)(.0288,.121)(.0312,.122)(.0338,.121)(.0358,.122)(.0392,.122)
(.0045,.126)(.0068,.126)(.0092,.126)(.0116,.125)(.0145,.126)(.0172,.126)(.0198,.125)(.0222,.126)(.0248,.125)(.0272,.126)(.0298,.126)(.0322,.127)(.0348,.126)(.0378,.126)
(.0055,.13)(.0078,.13)(.0102,.13)(.0125,.129)(.0152,.13)(.0178,.129)(.0202,.13)(.0222,.13)(.0252,.129)(.0282,.13)(.0308,.13)(.0338,.129)(.0362,.13)(.0398,.13)
(.0045,.134)(.007,.134)(.0093,.134)(.0118,.134)(.0142,.133)(.0168,.134)(.0192,.133)(.0216,.134)(.0242,.134)(.0268,.133)(.0292,.134)(.0316,.134)(.0344,.134)(.0372,.134)
(.0058,.138)(.0082,.138)(.0108,.139)(.0132,.138)(.0158,.138)(.0184,.139)(.0208,.138)(.0234,.138)(.0258,.139)(.0284,.138)(.031,.139)(.0336,.138)(.0362,.137)
(.005,.142)(.0074,.141)(.01,.142)(.0124,.141)(.0148,.142)(.0172,.141)(.0198,.142)(.0224,.142)(.0248,.141)(.0272,.142)(.0298,.142)(.0326,.141)(.0352,.142)
(.0062,.146)(.0088,.146)(.0112,.146)(.0138,.146)(.0162,.146)(.0188,.147)(.0214,.146)(.0238,.146)(.0264,.146)(.0288,.146)(.0316,.146)(.0345,.146)
(.0052,.15)(.0078,.15)(.0104,.15)(.0128,.15)(.0154,.15)(.0178,.15)(.0204,.15)(.0228,.15)(.0256,.15)(.0282,.15)(.031,.149)(.034,.15)
(.0075,.154)(.0105,.154)(.013,.154)(.0155,.154)(.018,.153)(.021,.154)(.024,.154)(.027,.154)(.03,.155)(.033,.154)
(.0085,.158)(.0115,.158)(.0145,.158)(.0175,.158)(.0205,.158)(.0235,.157)(.0265,.158)(.0298,.158)(.0335,.158)
(.0078,.162)(.0108,.162)(.0138,.162)(.0165,.162)(.0195,.162)(.0222,.162)(.0252,.162)(.0282,.162)(.032,.162)
(.0085,.166)(.012,.167)(.0152,.166)(.018,.166)(.021,.166)(.024,.166)(.027,.166)(.0305,.166)
(.0052,.2295)(.0122,.2262)(.0185,.2245)(.0262,.2295)(.0072,.2218)(.0148,.2185)(.022,.2225)(.0058,.2178)(.0095,.2148)(.0178,.2148)(.0255,.2175)(.0325,.2205)(.0072,.2105)(.0138,.2118)(.0208,.2095)(.0275,.2125)(.0345,.2085)(.005,.2055)(.0108,.2045)(.0172,.2025)(.0242,.2055)(.0315,.2035)(.0385,.2065)(.0452,.2095)(.0075,.1985)(.0125,.2005)(.0195,.1965)(.0265,.1985)(.0352,.1975)(.0438,.1945)(.0052,.1945)(.0112,.1935)(.0175,.1895)(.0248,.1945)(.0302,.1895)(.0372,.1905)(.0455,.1905)(.0082,.1885)(.0145,.1855)(.0205,.1865)(.0272,.1865)(.0345,.1825)(.0402,.1855)(.0508,.1795)(.0048,.1825)(.0108,.1815)(.0162,.1795)(.0225,.1815)(.0292,.1785)(.0365,.1775)(.0432,.1765)(.0495,.1725)(.0082,.1775)(.0142,.1745)(.0198,.1755)(.0262,.1735)(.0345,.1745)(.0392,.1735)(.0465,.1685)(.0055,.1745)(.0112,.1695)(.0168,.1715)(.0222,.1695)(.0282,.1705)(.0332,.1695)(.0378,.1695)(.0425,.1665)(.0062,.1625)(.0038,.1585)(.0058,.1545)(.0032,.1505)(.0035,.1445)(.0028,.1385)(.0035,.1325)(.0028,.1265)(.0035,.1205)(.0028,.1145)(.0035,.1085)(.0028,.1025)(.0362,.1605)(.0402,.1635)(.0408,.1565)(.0445,.1585)(.0425,.1535)(.0408,.1485)(.0488,.1525)(.0445,.1465)(.0405,.1435)(.0482,.1445)(.0378,.1405)(.0425,.1385)(.0462,.1385)(.0502,.1405)(.0405,.1335)(.0438,.1325)(.0478,.1345)(.0528,.1335)(.0408,.1275)(.0452,.1275)(.0498,.1265)(.0418,.1215)(.0458,.1205)(.0512,.1225)(.0408,.1165)(.0445,.1185)(.0488,.1175)(.0402,.1105)(.0445,.1125)(.0495,.1105)(.0412,.1065)(.0442,.1045)(.0488,.1065)(.0425,.1005)(.0472,.1015)(.0412,.0965)(.0455,.0965)(.0382,.0925)(.0428,.0905)(.0475,.0915)(.0062,.0925)(.0118,.0945)(.0162,.0885)(.0215,.0945)(.0262,.0925)(.0325,.0945)(.0352,.0905)(.0402,.0865)(.0072,.0835)(.0105,.0855)(.0168,.0825)(.0225,.0855)(.0288,.0855)(.0322,.0825)(.0365,.0825)(.0418,.0815)(.0035,.0805)(.0098,.0775)(.0155,.0785)(.0195,.0805)(.0248,.0775)(.0298,.0785)(.0338,.0785)(.0088,.0735)(.0148,.0735)(.0215,.0745)(.0282,.0745)(.0352,.0735)
};
\addlegendentry{land}
\end{axis}
\begin{axis}[panel,at={(902.5pt,138.25pt)},width=549.5pt,height=433.9pt,
 xmin=0,xmax=50,ymin=0.0022,ymax=0.5,
 xtick={0,5,...,50},xticklabels={0,5,10,15,20,25,30,35,40,45,50},
 ytick={0.05,0.1,0.15,0.2,0.25,0.3,0.35,0.4,0.45,0.5},
 yticklabels={0.05,0.1,0.15,0.2,0.25,0.3,0.35,0.4,0.45,0.5},
 xlabel={PRDV},ylabel={PV},
 ylabel style={at={(axis description cs:-0.1028,0.5)}},
 legend style={at={(axis description cs:0.4919,0.9686)}}]
\addplot[dots=red] coordinates {
(3.98,.0127)(3.57,.0128)(4.52,.0132)(5.03,.0128)(7.36,.0119)(8.38,.0119)(2.83,.0122)(14.87,.0094)(17.2,.0094)(22.07,.0094)(22.6,.0088)(23.9,.008)(27.3,.0084)(28.4,.0079)(30.7,.0079)(31.8,.0071)(33.5,.0026)(34.5,.0032)(35.6,.0057)(36.4,.0035)(37.6,.0057)(37.2,.0035)(38.5,.0034)(39.5,.0057)(40,.0035)(40.7,.0028)(41.3,.002)(43.2,.0033)(46.3,.0029)(47.5,.0025)
(3,.0038)(3.5,.0033)(4,.004)(4.5,.0034)(5,.004)(5.5,.0032)(6,.0038)(6.5,.0031)(7,.0037)(7.5,.003)(8,.0036)(8.5,.003)(9,.0036)(9.5,.003)(10,.0035)(10.5,.0029)(11,.0035)(11.5,.0029)(12,.0034)(12.5,.0029)(13,.0034)(13.5,.0028)(14,.0033)(14.5,.0028)(15,.0033)(15.5,.0028)(16,.0033)(16.5,.0028)(17,.0032)(17.5,.0028)(18,.0032)(18.5,.0027)(19,.0032)(19.5,.0027)(20,.0031)(20.5,.0027)(21,.0031)(21.5,.0026)(22,.0031)(22.5,.0026)(23,.003)(23.5,.0026)(24,.003)(24.5,.0026)(25,.003)(25.5,.0026)(26,.003)(26.5,.0026)(27,.003)(27.5,.0026)(28,.003)(28.5,.0026)(29,.003)(29.5,.0026)(30,.0028)(30.5,.0026)(31,.003)(31.5,.0028)(32,.003)
(3.2,.0075)(3.7,.0082)(4.2,.0076)(4.7,.0085)(5.2,.0075)(5.7,.0082)(6.2,.0072)(6.7,.0081)(7.2,.007)(7.7,.0079)(8.2,.007)(8.7,.0078)(9.2,.0068)(9.7,.0076)(10.2,.0067)(10.7,.0075)(11.2,.0066)(11.7,.0074)(12.2,.0066)(12.7,.0073)(13.2,.0064)(13.7,.0072)(14.2,.0063)(14.7,.0071)(15.2,.0063)(15.7,.007)(16.2,.0062)(16.7,.007)(17.2,.0062)(17.7,.0069)(18.2,.0061)(18.7,.0069)(19.2,.006)(19.7,.0068)(20.2,.0059)(20.7,.0066)(21.2,.0058)(21.7,.0065)(22.2,.0056)(22.7,.0064)(23.2,.0054)(23.7,.0062)(24.2,.0053)(24.7,.006)(25.2,.0052)(25.7,.0058)(26.2,.0051)(26.7,.0057)(27.2,.005)(27.7,.0058)(28.2,.005)(28.7,.0058)(29.2,.0048)(29.7,.0055)(30.2,.0048)(30.7,.0058)(31.2,.0048)(31.7,.0056)(32.2,.0048)(32.7,.0042)
(3.4,.0105)(4.4,.0108)(5.6,.0105)(6.6,.0104)(7.9,.0103)(9.1,.0098)(10.1,.0095)(11.1,.0094)(12.2,.0091)(13.2,.009)(14.2,.0089)(15.6,.0088)(16.6,.0087)(18.2,.0086)(19.2,.0086)(20.4,.0082)(21.4,.0082)(23,.0078)(24.8,.0074)(26,.007)
(3.3,.0055)(3.8,.0058)(4.3,.0054)(4.8,.0058)(5.3,.0055)(5.8,.0056)(6.3,.0054)(6.8,.0055)(7.3,.0052)(7.8,.0054)(8.3,.005)(8.8,.0052)(9.3,.005)(9.8,.0052)(10.3,.0048)(10.8,.005)(11.3,.0048)(11.8,.005)(12.3,.0047)(12.8,.005)(13.3,.0046)(13.8,.0048)(14.3,.0046)(14.8,.0048)(15.3,.0046)(15.8,.0048)(16.3,.0046)(16.8,.0047)(17.3,.0045)(17.8,.0047)(18.3,.0045)(18.8,.0047)(19.3,.0044)(19.8,.0046)(20.3,.0044)(20.8,.0045)(21.3,.0043)(21.8,.0045)(22.3,.0042)(22.8,.0044)(23.3,.0041)(23.8,.0043)(24.3,.004)(24.8,.0042)(25.3,.004)(25.8,.004)(26.3,.0039)(26.8,.004)(27.3,.0039)(27.8,.004)(28.3,.0038)(28.8,.004)(29.3,.0038)(29.8,.0038)(30.3,.0038)(30.8,.0039)(31.3,.0038)(31.8,.0038)(32.4,.0036)
};
\addlegendentry{port water}
\addplot[dots=green] coordinates {(0,.0032)(0,.0022)(0,.0048)(.1,.0018)(.3,.0018)(.5,.0019)(.7,.0018)(.9,.0019)(1.1,.0018)(.2,.0036)(.5,.0028)};
\addlegendentry{calm water}
\addplot[dots=blue] coordinates {
(.1,.0052)(.35,.0046)(.6,.005)(.85,.0044)(1.1,.0046)(1.35,.0036)(1.6,.0042)(1.85,.0036)(2.1,.0041)(2.35,.0036)(2.6,.0041)(2.85,.0036)(3.1,.004)(3.35,.0036)(3.6,.004)(3.85,.0036)(4.1,.004)(4.4,.0035)
(.05,.0078)(.3,.0075)(.55,.0082)(.8,.0075)(1.05,.008)(1.3,.0076)(1.55,.0082)(1.8,.0074)(2.05,.0078)(2.3,.0074)(2.55,.0078)(2.8,.0072)(3.05,.0076)(3.3,.0072)(3.55,.0068)(3.8,.0062)(4.2,.0054)
(.05,.0108)(.35,.0108)(.6,.0112)(.85,.0104)(1.1,.0108)(1.4,.0112)(1.7,.0112)(1.95,.0106)(2.3,.0102)(2.6,.0098)(2.9,.0105)(3.2,.0098)(3.5,.0096)
(.2,.0061)(.45,.006)(.7,.0062)(.95,.006)(1.2,.0061)(1.45,.006)(1.7,.0062)(1.95,.006)(2.2,.0061)(2.45,.0059)(2.7,.006)(2.95,.0058)(3.2,.0056)(3.45,.0054)(3.7,.005)
(.2,.0094)(.45,.0094)(.7,.0096)(.95,.0092)(1.2,.0094)(1.45,.0094)(1.7,.0096)(1.95,.0092)(2.2,.009)(2.45,.0088)(2.7,.0086)(2.95,.0088)
(4.93,.0059)(5.2,.0052)(5.5,.0036)(5.8,.0025)(6.25,.0032)(6.35,.0042)(6.95,.0027)(7.36,.003)(8.03,.0023)(4.6,.0045)(5,.0038)
};
\addlegendentry{interference water near urban}
\addplot[dots=black] coordinates {
(.05,.481)(.05,.4525)(.08,.44)(.06,.44)(.1,.423)(.15,.422)(.05,.41)(.2,.405)(.12,.4)(.18,.397)(.1,.393)(.12,.385)(.05,.381)(.2,.38)(.12,.375)(.05,.37)(.2,.367)(.1,.362)(.2,.36)(.06,.355)(.18,.352)(.08,.347)(.2,.344)(.12,.34)(.3,.338)(.06,.333)(.2,.33)(.35,.327)(.12,.324)(.28,.322)(.42,.32)(.06,.316)(.22,.313)(.35,.311)(.1,.307)(.32,.305)(.18,.302)(.64,.291)
(.05,.298)(.2,.297)(.38,.296)(.1,.293)(.3,.29)(.45,.288)(.05,.286)(.2,.284)(.36,.282)(.5,.28)(.12,.279)(.3,.276)(.42,.274)(.05,.272)(.2,.27)(.5,.27)(.34,.267)(.12,.265)(.42,.263)(.03,.262)(.25,.26)(.5,.258)(.1,.256)(.36,.254)(.64,.25)(.02,.252)(.2,.25)(.48,.248)(.1,.246)(.32,.244)(.56,.243)(.02,.242)(.2,.24)(.43,.238)(.72,.2357)(.08,.238)(.3,.235)(.55,.234)(.02,.232)(.18,.23)(.42,.229)(.62,.228)(.08,.226)(.3,.225)(.52,.224)(.02,.222)(.2,.221)(.42,.22)(.68,.219)(.08,.217)(.3,.216)(.56,.215)(.02,.213)(.18,.212)(.42,.211)(.72,.21)(.08,.208)(.3,.207)(.58,.206)(.84,.2043)
(.02,.204)(.2,.203)(.44,.202)(.7,.201)(.08,.2)(.32,.199)(.58,.198)(.02,.196)(.2,.195)(.44,.194)(.74,.193)(.08,.192)(.32,.191)(.6,.19)(.84,.1858)(.02,.188)(.2,.187)(.46,.186)(.74,.185)(.1,.184)(.34,.183)(.62,.182)(.02,.18)(.22,.179)(.48,.178)(.78,.177)(.92,.1754)(.1,.176)(.36,.175)(.64,.174)(.02,.172)(.24,.171)(.5,.17)(.8,.169)(.1,.168)(.36,.167)(.66,.166)(.9,.165)(.02,.164)(.24,.163)(.5,.162)(.8,.161)(.1,.16)(.38,.159)(.68,.158)(.92,.157)(.02,.156)(.24,.155)(.52,.154)(.82,.153)(.1,.152)(.38,.151)(.68,.15)(.98,.149)(.02,.148)(.24,.147)(.52,.146)(.82,.145)(.1,.144)(.38,.143)(.68,.142)(.96,.141)(.02,.14)(.24,.139)(.54,.138)(.84,.137)(.1,.136)(.38,.135)(.7,.134)(1,.133)(.02,.132)(.26,.131)(.56,.13)(.86,.129)(.12,.128)(.4,.127)(.72,.126)(1.04,.125)(.02,.124)(.28,.123)(.58,.122)(.9,.121)(.12,.12)(.42,.119)(.74,.118)(1.23,.115)(1.06,.116)(.02,.116)(.28,.115)(.58,.114)(.9,.113)(.12,.112)(.42,.111)(.74,.11)(1.1,.109)(1.25,.106)(.02,.108)(.28,.107)(.58,.106)(.92,.105)(.12,.104)(.42,.103)(.76,.102)(1.12,.101)(1.3,.098)(.02,.1)(.28,.099)(.6,.098)(.94,.097)(.14,.096)(.44,.095)(.78,.094)(1.1,.093)(1.4,.092)(.02,.092)(.3,.091)(.62,.09)(.94,.089)(1.43,.0895)(1.2,.087)(.14,.088)(.44,.087)(.76,.086)(.02,.084)(.3,.083)(.62,.082)(.92,.081)(1.67,.0778)(1.5,.085)(.14,.08)(.44,.079)(.76,.078)(.02,.076)(.3,.075)(.62,.074)(.88,.073)(.14,.072)(.44,.071)(.72,.07)(.02,.068)(.3,.067)(.58,.066)(.84,.065)(.14,.064)(.44,.063)(.7,.062)(.06,.06)(.3,.059)(.58,.058)(.8,.057)(.14,.056)(.44,.055)(.68,.054)(.08,.052)(.3,.051)(.56,.05)(.72,.049)(.2,.048)(.44,.047)(.62,.046)(.14,.044)(.34,.043)(.54,.042)(.72,.041)(.2,.04)(.4,.039)(.48,.0365)(.84,.0365)(.44,.0355)
(.15,.05)(.42,.052)(.25,.054)(.55,.056)(.05,.058)(.2,.06)(.45,.06)(.7,.058)(.1,.062)(.32,.063)(.56,.064)(.05,.066)(.22,.068)(.45,.067)(.72,.066)(.12,.07)(.36,.071)(.6,.07)(.05,.074)(.22,.074)(.48,.075)(.8,.076)(.12,.078)(.36,.079)(.62,.078)(.92,.078)(.05,.082)(.22,.082)(.48,.083)(.76,.082)(1,.084)(.12,.086)(.36,.087)(.62,.086)(.88,.087)(.05,.09)(.22,.09)(.48,.091)(.78,.09)(1.05,.09)(.12,.094)(.36,.093)(.62,.094)(.94,.093)(.05,.098)(.22,.097)(.48,.098)(.78,.098)(1.06,.098)(.12,.102)(.36,.101)(.62,.102)(.94,.101)(.05,.106)(.22,.105)(.48,.106)(.78,.106)(1.05,.106)(.12,.11)(.36,.109)(.62,.11)(.92,.109)(.05,.114)(.22,.113)(.48,.114)(.78,.114)(1,.113)(.12,.118)(.36,.117)(.62,.118)(.9,.117)(.05,.122)(.22,.121)(.48,.122)(.76,.122)(.98,.121)(.12,.126)(.36,.125)(.62,.126)(.88,.125)(.05,.13)(.22,.129)(.48,.13)(.74,.13)(.95,.13)(.12,.134)(.36,.133)(.6,.134)(.86,.133)(.05,.138)(.22,.137)(.46,.138)(.72,.138)(.12,.142)(.34,.141)(.58,.142)(.85,.141)(.05,.146)(.22,.145)(.44,.146)(.7,.146)(.12,.15)(.34,.149)(.58,.15)(.84,.149)(.05,.154)(.22,.153)(.44,.154)(.7,.154)(.12,.158)(.32,.157)(.56,.158)(.82,.157)(.05,.162)(.2,.161)(.42,.162)(.68,.162)(.12,.166)(.3,.165)(.54,.166)(.78,.165)(.05,.17)(.2,.169)(.42,.17)(.66,.17)(.12,.174)(.3,.173)(.52,.174)(.74,.173)(.05,.178)(.2,.177)(.4,.178)(.64,.178)(.12,.182)(.28,.181)(.5,.182)(.7,.181)(.05,.186)(.2,.185)(.38,.186)(.6,.186)(.12,.19)(.28,.189)(.48,.19)(.68,.189)(.05,.194)(.2,.193)(.36,.194)(.58,.194)(.12,.198)(.26,.197)(.46,.198)(.66,.197)(.05,.202)(.18,.201)(.34,.202)(.56,.202)(.12,.206)(.26,.205)(.44,.206)(.05,.21)(.18,.209)(.34,.21)(.54,.21)(.12,.214)(.24,.214)(.42,.214)(.05,.218)(.18,.218)(.34,.218)(.12,.222)(.26,.222)(.44,.222)(.05,.226)(.18,.227)(.38,.226)(.12,.23)(.28,.231)(.05,.234)(.18,.235)(.42,.234)(.12,.24)(.3,.24)
(.12,.248)(.34,.25)(.05,.256)(.22,.257)(.42,.255)(.12,.26)(.34,.262)(.05,.266)(.22,.266)(.12,.27)(.36,.272)(.22,.275)(.05,.28)(.2,.279)(.4,.28)(.12,.284)(.3,.285)(.05,.29)(.2,.29)(.12,.296)(.3,.297)(.05,.304)(.22,.304)(.12,.31)(.28,.312)(.05,.322)(.2,.322)(.12,.332)(.05,.344)(.14,.35)
};
\addlegendentry{land}
\end{axis}
\node[font=\fontsize{36}{36}\selectfont\capfont\bfseries,text=black] at (347,35.5) {(a)};
\node[font=\fontsize{36}{36}\selectfont\capfont\bfseries,text=black] at (1164,35.5) {(b)};
\end{tikzpicture}
\end{document}
